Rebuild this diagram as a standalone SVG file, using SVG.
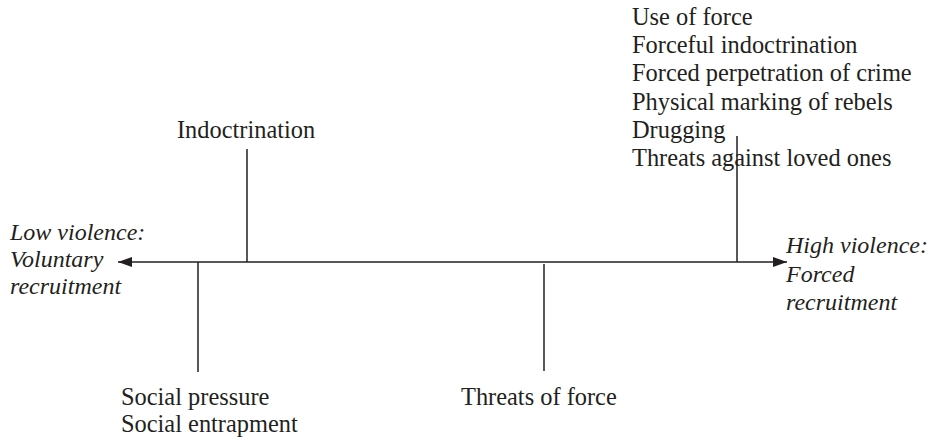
<svg xmlns="http://www.w3.org/2000/svg" width="931" height="442" viewBox="0 0 931 442">
<style>
text{font-family:"Liberation Serif","Times New Roman",serif;font-size:24.4px;fill:#231f20}
.it{font-style:italic;font-size:24px}
.ln{stroke:#231f20;stroke-width:1.5;fill:none}
</style>
<defs>
<marker id="ah" viewBox="0 0 14 10" refX="14" refY="5" markerWidth="14" markerHeight="10" markerUnits="userSpaceOnUse" orient="auto-start-reverse">
<path d="M0,0 L14,5 L0,10 z" fill="#231f20"/>
</marker>
</defs>
<rect width="931" height="442" fill="#fff"/>
<g id="connectors">
<line class="ln" x1="118" y1="262" x2="787" y2="262" marker-start="url(#ah)" marker-end="url(#ah)"/>
<line class="ln" x1="247" y1="149" x2="247" y2="262"/>
<line class="ln" x1="198" y1="262" x2="198" y2="372"/>
<line class="ln" x1="544" y1="264" x2="544" y2="371"/>
<line class="ln" x1="737" y1="136" x2="737" y2="262"/>
</g>
<g id="low">
<text class="it" x="10" y="240">Low violence:</text>
<text class="it" x="10" y="267">Voluntary</text>
<text class="it" x="10" y="294">recruitment</text>
</g>
<g id="high">
<text class="it" x="786" y="253">High violence:</text>
<text class="it" x="786" y="282">Forced</text>
<text class="it" x="786" y="310">recruitment</text>
</g>
<g id="indoctrination">
<text x="177" y="138">Indoctrination</text>
</g>
<g id="social">
<text x="121" y="405">Social pressure</text>
<text x="121" y="432">Social entrapment</text>
</g>
<g id="threats">
<text x="461" y="405">Threats of force</text>
</g>
<g id="force">
<text x="632" y="25">Use of force</text>
<text x="632" y="53">Forceful indoctrination</text>
<text x="632" y="81">Forced perpetration of crime</text>
<text x="632" y="110">Physical marking of rebels</text>
<text x="632" y="138">Drugging</text>
<text x="632" y="166">Threats against loved ones</text>
</g>
</svg>
